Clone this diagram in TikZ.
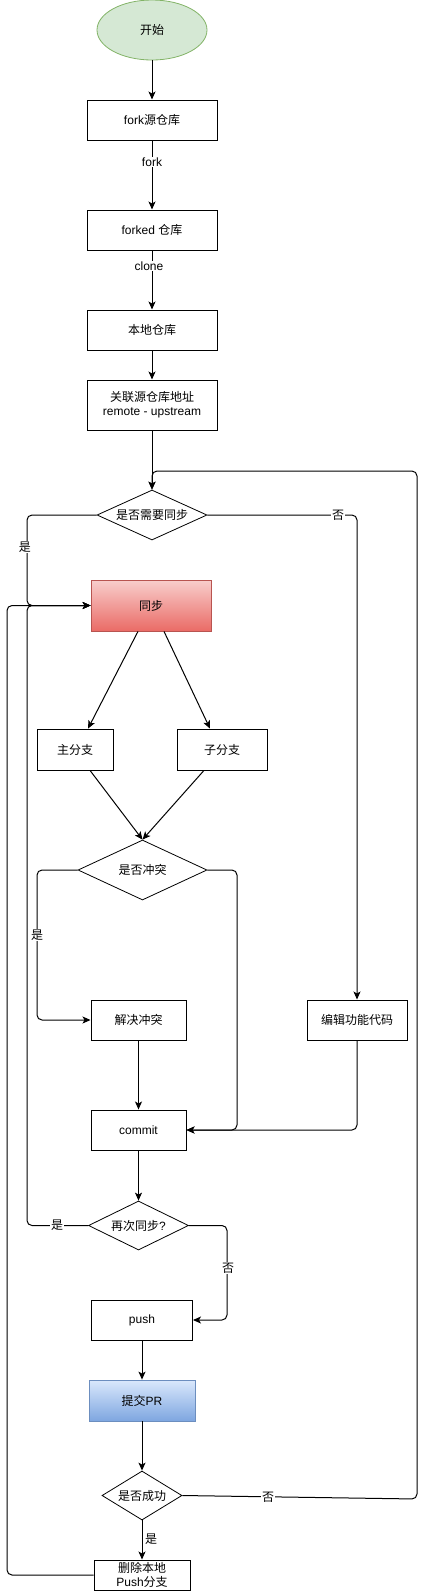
\documentclass[tikz,border=0pt]{standalone}
\usepackage{fontspec}
\setmainfont{Liberation Sans}
\newfontfamily\cjkfont{Noto Sans CJK SC}
\newcommand{\zh}[1]{{\cjkfont #1}}
\usetikzlibrary{shapes.geometric,arrows.meta}
\definecolor{gfill}{HTML}{D5E8D4}
\definecolor{gline}{HTML}{82B366}
\definecolor{rtop}{HTML}{F8CECC}
\definecolor{rbot}{HTML}{EA6B66}
\definecolor{rline}{HTML}{B85450}
\definecolor{btop}{HTML}{DAE8FC}
\definecolor{bbot}{HTML}{7EA6E0}
\definecolor{bline}{HTML}{6C8EBF}
\tikzset{
  base/.style={inner sep=0pt, font=\fontsize{12pt}{14pt}\selectfont, align=center},
  boxnode/.style={base, draw=black, line width=1pt, rectangle},
  decide/.style={base, draw=black, line width=0.8pt, diamond, aspect=2.5},
  conn/.style={line width=1pt, -{Stealth[length=8pt,width=7pt,inset=2pt]}, rounded corners=5pt},
  lbl/.style={base, fill=white, inner sep=1pt},
}
\begin{document}
\begin{tikzpicture}[x=1pt,y=-1pt]
\useasboundingbox (0,0) rectangle (426,1591);
\node[base, ellipse, draw=gline, fill=gfill, line width=0.8pt, minimum width=110pt, minimum height=60pt] (start) at (152,30) {\zh{开始}};
\node[boxnode, minimum width=130pt, minimum height=40pt] (fork) at (152,120) {fork\zh{源仓库}};
\node[boxnode, minimum width=130pt, minimum height=40pt] (forked) at (152,230) {forked \zh{仓库}};
\node[boxnode, minimum width=130pt, minimum height=40pt] (local) at (152,330) {\zh{本地仓库}};
\node[boxnode, minimum width=130pt, minimum height=50pt] (link) at (152,405) {\zh{关联源仓库地址}\\remote - upstream};
\node[decide, minimum width=110pt, minimum height=50pt] (dia1) at (152,515) {\zh{是否需要同步}};
\node[base, rectangle, draw=rline, line width=0.8pt, top color=rtop, bottom color=rbot, minimum width=120pt, minimum height=51pt] (sync) at (151,605.5) {\zh{同步}};
\node[boxnode, line width=0.8pt, minimum width=76pt, minimum height=41pt] (main) at (75,749.5) {\zh{主分支}};
\node[boxnode, line width=0.8pt, minimum width=90pt, minimum height=41pt] (sub) at (222,749.5) {\zh{子分支}};
\node[decide, minimum width=129pt, minimum height=60pt] (dia2) at (142.5,870) {\zh{是否冲突}};
\node[boxnode, minimum width=95pt, minimum height=40pt] (resolve) at (138.5,1020) {\zh{解决冲突}};
\node[boxnode, minimum width=100pt, minimum height=40pt] (edit) at (357,1020) {\zh{编辑功能代码}};
\node[boxnode, minimum width=95pt, minimum height=40pt] (commit) at (138.5,1130) {commit};
\node[decide, minimum width=100pt, minimum height=49pt] (dia3) at (138.5,1225.5) {\zh{再次同步}?};
\node[boxnode, minimum width=101pt, minimum height=40pt] (push) at (142,1320) {push};
\node[base, rectangle, draw=bline, line width=0.8pt, top color=btop, bottom color=bbot, minimum width=106pt, minimum height=41pt] (pr) at (142,1400.5) {\zh{提交}PR};
\node[decide, minimum width=80pt, minimum height=49pt] (succ) at (142,1495.5) {\zh{是否成功}};
\node[boxnode, minimum width=96pt, minimum height=30pt, font=\fontsize{12pt}{13.5pt}\selectfont] (del) at (142,1575) {\zh{删除本地}\\Push\zh{分支}};

\draw[conn] (start) -- (fork);
\draw[conn] (fork) -- (forked);
\draw[conn] (forked) -- (local);
\draw[conn] (local) -- (link);
\draw[conn] (link) -- (dia1);
\node[lbl] (lfork) at (152,162) {fork};
\node[lbl] (lclone) at (149,266) {clone};

\draw[conn] (dia1.west) -- (27,515) -- (27,605.5) -- (sync.west);
\node[lbl] (lyes1) at (25,547) {\zh{是}};
\draw[conn] (dia1.east) -- (357,515) -- (edit.north);
\node[lbl] (lno1) at (338,515) {\zh{否}};

\draw[conn] ([xshift=-13pt]sync.south) -- ([xshift=13pt]main.north);
\draw[conn] ([xshift=13pt]sync.south) -- ([xshift=-12pt]sub.north);
\draw[conn] ([xshift=15pt]main.south) -- (dia2.north);
\draw[conn] ([xshift=-18pt]sub.south) -- (dia2.north);

\draw[conn] (dia2.west) -- (37,870) -- (37,1020) -- (resolve.west);
\node[lbl] (lyes2) at (37,935) {\zh{是}};
\draw[conn] (dia2.east) -- (237,870) -- (237,1130) -- (commit.east);
\draw[conn] (edit.south) -- (357,1130) -- (commit.east);
\draw[conn] (resolve) -- (commit);
\draw[conn] (commit) -- (dia3);

\draw[conn] (dia3.west) -- (27,1225.5) -- (27,605.5) -- (sync.west);
\node[lbl] (lyes3) at (57,1225.5) {\zh{是}};
\draw[conn] (dia3.east) -- (227,1225.5) -- (227,1320) -- (push.east);
\node[lbl] (lno3) at (228,1268) {\zh{否}};
\draw[conn] (push) -- (pr);
\draw[conn] (pr) -- (succ);
\draw[conn] (succ) -- (del);
\node[base] (lyes4) at (151,1539) {\zh{是}};
\draw[conn] (succ.east) -- (417,1499) -- (417,471) -- (152,471) -- (dia1.north);
\node[lbl] (lno4) at (268,1497) {\zh{否}};
\draw[conn] (del.west) -- (7,1575) -- (7,605.5) -- (sync.west);
\end{tikzpicture}
\end{document}
